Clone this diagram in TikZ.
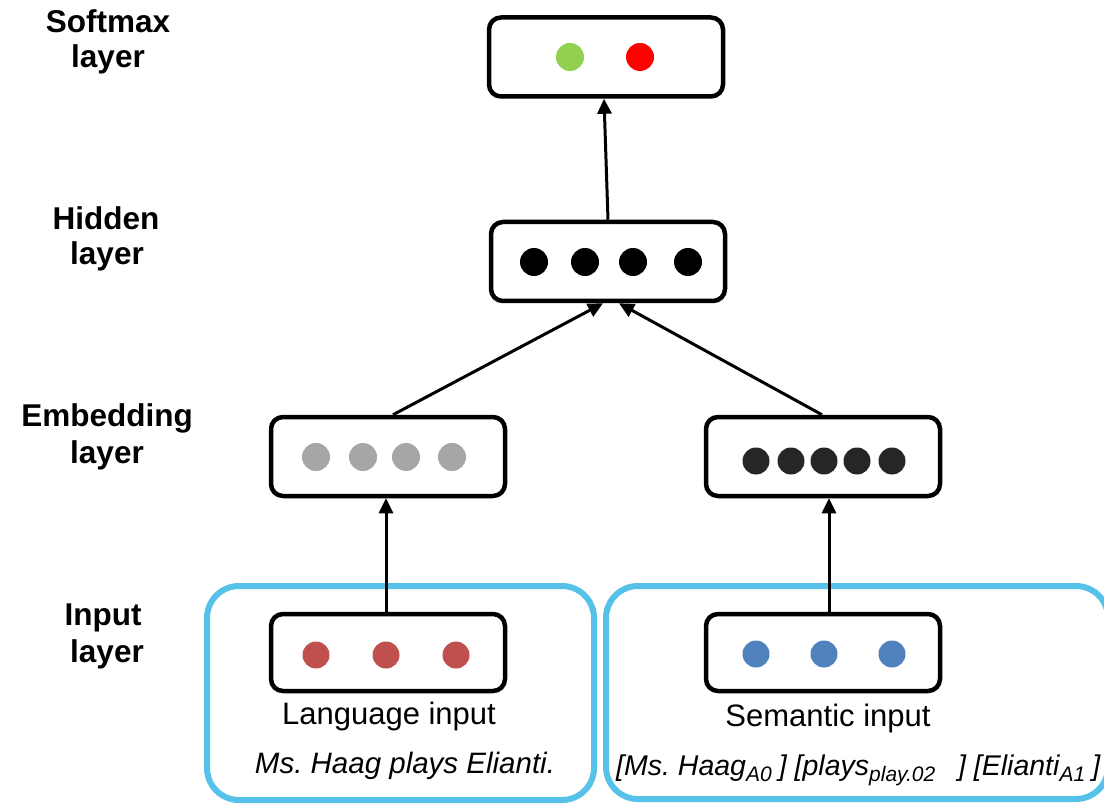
\documentclass[tikz,border=0pt]{standalone}
\usepackage{fontspec}
\setmainfont{Liberation Sans}
\usetikzlibrary{arrows.meta}
\frenchspacing

\definecolor{boxblue}{HTML}{56C2EA}
\definecolor{dotgreen}{HTML}{92D050}
\definecolor{dotred}{HTML}{FF0000}
\definecolor{dotgray}{HTML}{A6A6A6}
\definecolor{dotdark}{HTML}{262626}
\definecolor{dotbrick}{HTML}{C0504D}
\definecolor{dotblue}{HTML}{4F81BD}

% lowered, smaller role tag after a word
\newcommand\roletag[1]{\raisebox{-0.22em}{\fontsize{21}{21}\selectfont #1}}

\tikzset{
  layerbox/.style={draw=black, line width=4.5pt, rounded corners=12pt,
    minimum width=234pt, minimum height=79pt, inner sep=0pt, fill=white},
  groupbox/.style={draw=boxblue, line width=6pt, rounded corners=32pt},
  arr/.style={line width=3pt, -{Triangle[length=15pt,width=14pt]}},
  layername/.style={font=\fontsize{31.5}{36}\selectfont\bfseries, anchor=base, inner sep=0pt},
  caption/.style={font=\fontsize{31}{36}\selectfont, anchor=base, inner sep=0pt},
  example/.style={font=\fontsize{28.5}{34}\selectfont\itshape, anchor=base, inner sep=0pt},
}

\begin{document}
\begin{tikzpicture}[x=1pt, y=-1pt]
\useasboundingbox (0,0) rectangle (1104,805);

% input groups
\draw[groupbox] (207,586) rectangle (594,800);
\draw[groupbox] (606,586) rectangle (1108,799);

% layer names
\node[layername] (softA) at (108,33) {Softmax};
\node[layername] (softB) at (108,68) {layer};
\node[layername] (hidA) at (106,230) {Hidden};
\node[layername] (hidB) at (107,265) {layer};
\node[layername] (embA) at (107,426) {Embedding};
\node[layername] (embB) at (107,463) {layer};
\node[layername] (inA) at (103,625) {Input};
\node[layername] (inB) at (107,662) {layer};

% layer boxes
\node[layerbox] (soft) at (606,57) {};
\node[layerbox] (hid) at (608,261.5) {};
\node[layerbox] (embL) at (388,456.5) {};
\node[layerbox] (embR) at (823,456.5) {};
\node[layerbox, minimum height=77pt] (inL) at (388,652.5) {};
\node[layerbox, minimum height=77pt] (inR) at (823,652.5) {};

% units
\fill[dotgreen] (570,57) circle (14);
\fill[dotred] (640,57) circle (14);
\foreach \x in {534,585,633,688} \fill[black] (\x,262) circle (14);
\foreach \x in {316,363,406,452} \fill[dotgray] (\x,457) circle (14);
\foreach \x in {756,791,824,857,892} \fill[dotdark] (\x,461) circle (13.5);
\foreach \x in {316,386,456} \fill[dotbrick] (\x,655) circle (13.5);
\foreach \x in {756,824,892} \fill[dotblue] (\x,654) circle (13.5);

% connections
\draw[arr] ([xshift=-2pt]inL.north) -- ([xshift=-2pt]embL.south);
\draw[arr] ([xshift=6pt]inR.north) -- ([xshift=6pt]embR.south);
\draw[arr] ([xshift=5pt]embL.north) -- ([xshift=-5pt]hid.south);
\draw[arr] ([xshift=-1pt]embR.north) -- ([xshift=11pt]hid.south);
\draw[arr] (hid.north) -- ([xshift=-2pt]soft.south);

% input descriptions
\node[caption] (langcap) at (389,724) {Language input};
\node[caption] (semcap) at (828,726) {Semantic input};
\node[example, font=\fontsize{29.5}{34}\selectfont\itshape] (langex) at (405,773) {Ms. Haag plays Elianti.};
\node[example, anchor=base west] (semex) at (616,775)
  {[Ms. Haag\roletag{A0}\hspace{0.25em}] [plays\roletag{play.02}\hspace{0.8em}] [Elianti\roletag{A1}\hspace{0.25em}]};
\end{tikzpicture}
\end{document}
